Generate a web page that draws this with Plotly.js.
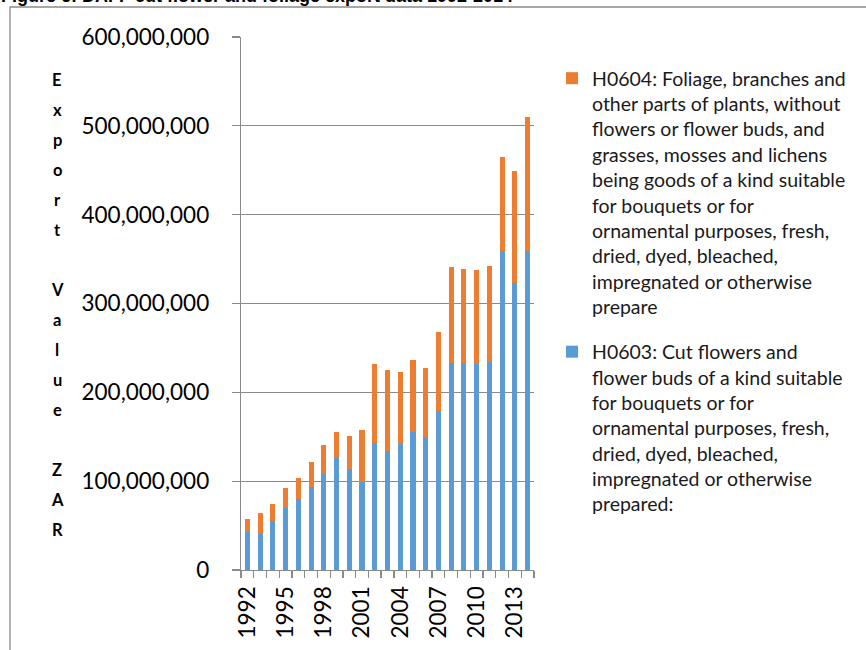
<!DOCTYPE html>
<html>
<head>
<meta charset="utf-8">
<script src="https://cdn.plot.ly/plotly-3.0.1.min.js"></script>
<style>html,body{margin:0;padding:0;background:#fff;}#chart{width:866px;height:650px;}</style>
</head>
<body>
<div id="chart"></div>
<script>
// ---- data ----
var years = ["1992","1993","1994","1995","1996","1997","1998","1999","2000","2001","2002","2003","2004","2005","2006","2007","2008","2009","2010","2011","2012","2013","2014"];
var cutFlowers = [43100000,40500000,54800000,70200000,80000000,93800000,107800000,126500000,113400000,98800000,142700000,134400000,141500000,155400000,150100000,178700000,232800000,233100000,231600000,234600000,358900000,323200000,359600000];
var foliage = [14000000,23700000,19500000,21800000,23300000,27800000,33000000,28900000,37500000,58900000,88900000,90500000,81500000,80700000,77000000,89300000,108100000,105500000,106200000,107700000,106200000,125800000,150200000];
var nameFoliage = "H0604: Foliage, branches and<br>other parts of plants, without<br>flowers or flower buds, and<br>grasses, mosses and lichens<br>being goods of a kind suitable<br>for bouquets or for<br>ornamental purposes, fresh,<br>dried, dyed, bleached,<br>impregnated or otherwise<br>prepare";
var nameCut = "H0603: Cut flowers and<br>flower buds of a kind suitable<br>for bouquets or for<br>ornamental purposes, fresh,<br>dried, dyed, bleached,<br>impregnated or otherwise<br>prepared:";
var titleText = "Figure 6: DAFF cut flower and foliage export data 1992-2014";
var yTitle = "Export Value ZAR";

// ---- layout helpers (pixel -> paper) ----
var W = 866, H = 650, L = 241, R = 534, T = 37, B = 570;
function px(x){ return (x - L) / (R - L); }
function py(y){ return (B - y) / (B - T); }

var grey = '#8a8a8a';
var traces = [
  {type:'bar', x: years, y: cutFlowers, name: nameCut, marker:{color:'#5B9BD5'}, legendgroup:'b', legendrank: 2},
  {type:'bar', x: years, y: foliage, name: nameFoliage, marker:{color:'#ED7D31'}, legendgroup:'a', legendrank: 1}
];

var annotations = [{
  text: '<b>' + titleText + '</b>', xref:'paper', yref:'paper',
  x: px(-1), y: py(-4), xanchor:'left', yanchor:'middle', showarrow:false,
  font:{family:'Liberation Sans, Arial', size:18, color:'#000'}
}];
var letters = yTitle.split('');
for (var i = 0; i < letters.length; i++) {
  if (letters[i] === ' ') continue;
  annotations.push({text:'<b>' + letters[i] + '</b>', xref:'paper', yref:'paper',
    x: px(57), y: py(80 + 30 * i), xanchor:'center', yanchor:'middle', showarrow:false,
    font:{family:'Lato', size:16.5, color:'#000'}});
}

var layout = {
  width: W, height: H,
  margin: {l: L, r: W - R, t: T, b: H - B, pad: 0},
  paper_bgcolor:'#fff', plot_bgcolor:'#fff',
  barmode:'stack', bargap: 0.6,
  showlegend: true,
  legend: {x: px(552), y: py(59), xanchor:'left', yanchor:'top', traceorder:'grouped',
    tracegroupgap: 17, valign:'top', font:{family:'Lato', size:19.5, color:'#1a1a1a'}},
  xaxis: {type:'category', tickmode:'linear', tick0:0, dtick:1, ticklabelstep:3, tickson:'boundaries',
    ticks:'outside', ticklen:7, tickcolor:grey, tickwidth:1.3, tickangle:-90,
    showline:true, linecolor:grey, linewidth:1.3, showgrid:false, zeroline:false,
    ticklabelstandoff: 6,
    tickfont:{family:'Lato', size:22.5, color:'#000'}},
  yaxis: {range:[0, 600000000], tickmode:'linear', tick0:0, dtick:100000000, tickformat:',d',
    ticks:'outside', ticklen:8, tickcolor:grey, tickwidth:1.3,
    showline:true, linecolor:grey, linewidth:1.3, showgrid:true, gridcolor:grey, gridwidth:1.3, zeroline:false,
    ticklabelstandoff: 18,
    tickfont:{family:'Lato', size:22.5, color:'#000'}},
  shapes: [{type:'rect', xref:'paper', yref:'paper', x0:px(10), x1:px(900), y0:py(700), y1:py(7),
    line:{color:grey, width:1.3}, fillcolor:'rgba(0,0,0,0)', layer:'below'}],
  annotations: annotations
};

Plotly.newPlot('chart', traces, layout, {displayModeBar:false, staticPlot:true});
</script>
</body>
</html>
